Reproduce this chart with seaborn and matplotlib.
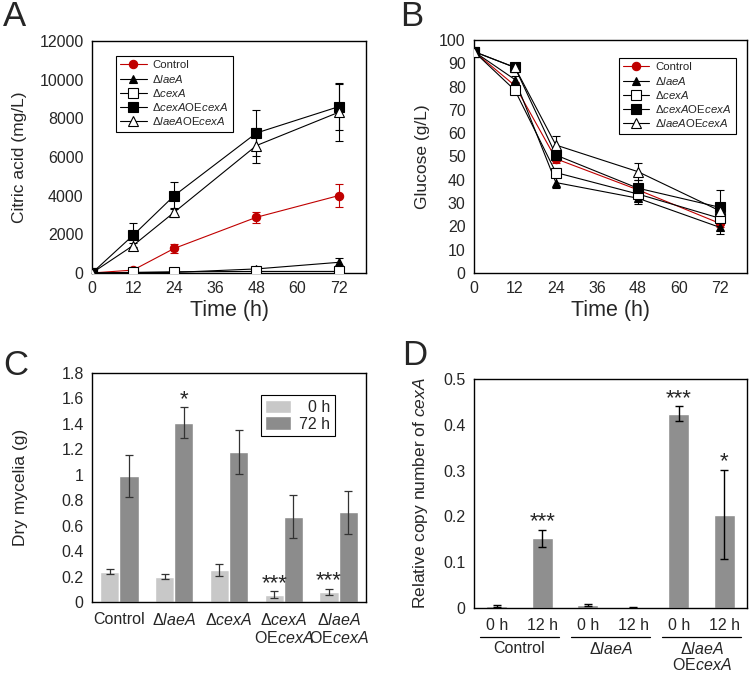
import numpy as np
import pandas as pd
import matplotlib
matplotlib.use("Agg")
import matplotlib.pyplot as plt
import seaborn as sns

# ---- data ----
times = [0, 12, 24, 48, 72]
strain_labels = ["Control", "Δ$\\it{laeA}$", "Δ$\\it{cexA}$",
                 "Δ$\\it{cexA}$OE$\\it{cexA}$", "Δ$\\it{laeA}$OE$\\it{cexA}$"]

citric_control = [0, 150, 1270, 2880, 4000]
citric_control_err = [0, 40, 220, 290, 590]
citric_laeA = [0, 20, 30, 210, 550]
citric_laeA_err = [0, 10, 10, 40, 240]
citric_cexA = [0, 30, 60, 80, 80]
citric_cexA_err = [0, 10, 10, 20, 20]
citric_cexA_oe = [0, 1950, 4000, 7240, 8600]
citric_cexA_oe_err = [0, 620, 700, 1170, 1230]
citric_laeA_oe = [0, 1420, 3140, 6590, 8310]
citric_laeA_oe_err = [0, 150, 220, 910, 1460]

glucose_control = [95, 80.4, 49.0, 35.7, 21.3]
glucose_control_err = [0.5, 1.5, 2.0, 1.5, 1.5]
glucose_laeA = [95, 83.0, 38.8, 32.1, 19.6]
glucose_laeA_err = [0.5, 1.5, 2.5, 2.5, 3.0]
glucose_cexA = [95, 78.4, 43.1, 33.9, 23.5]
glucose_cexA_err = [0.5, 1.5, 2.0, 2.0, 2.0]
glucose_cexA_oe = [95, 88.2, 50.6, 36.4, 28.2]
glucose_cexA_oe_err = [0.5, 1.5, 2.5, 3.5, 7.4]
glucose_laeA_oe = [95, 88.2, 54.9, 43.5, 26.7]
glucose_laeA_oe_err = [0.5, 2.0, 4.0, 3.6, 2.0]

mycelia_strains = ["Control", "Δ$\\it{laeA}$", "Δ$\\it{cexA}$",
                   "Δ$\\it{cexA}$\nOE$\\it{cexA}$", "Δ$\\it{laeA}$\nOE$\\it{cexA}$"]
mycelia_0h = [0.237, 0.200, 0.253, 0.058, 0.079]
mycelia_0h_err = [0.020, 0.020, 0.045, 0.025, 0.027]
mycelia_72h = [0.992, 1.410, 1.180, 0.671, 0.705]
mycelia_72h_err = [0.165, 0.120, 0.175, 0.170, 0.170]
mycelia_sig_0h = ["", "", "", "***", "***"]
mycelia_sig_72h = ["", "*", "", "", ""]

copy_samples = ["c0", "c12", "l0", "l12", "o0", "o12"]
copy_ticklabels = ["0 h", "12 h", "0 h", "12 h", "0 h", "12 h"]
copy_groups = ["Control", "Δ$\\it{laeA}$", "Δ$\\it{laeA}$\nOE$\\it{cexA}$"]
copy_values = [0.005, 0.152, 0.0066, 0.001, 0.424, 0.204]
copy_err = [0.002, 0.019, 0.003, 0.0005, 0.016, 0.098]
copy_sig = ["", "***", "", "", "***", "*"]

# ---- style ----
sns.set_style("white")
plt.rcParams["font.family"] = ["Liberation Sans", "DejaVu Sans"]
plt.rcParams["mathtext.fontset"] = "custom"
plt.rcParams["mathtext.rm"] = "Liberation Sans"
plt.rcParams["mathtext.it"] = "Liberation Sans:italic"
plt.rcParams["axes.edgecolor"] = "black"
plt.rcParams["axes.linewidth"] = 1.0

red = "#c00000"
line_specs = [
    ("o", red, red, 6),
    ("^", "black", "black", 5.5),
    ("s", "black", "white", 6.5),
    ("s", "black", "black", 6.5),
    ("^", "black", "white", 6.5),
]

fig = plt.figure(figsize=(7.5, 6.75), dpi=100)
axA = fig.add_axes([0.1227, 0.5956, 0.3653, 0.3437])
axB = fig.add_axes([0.632, 0.5956, 0.364, 0.3452])
axC = fig.add_axes([0.1227, 0.1081, 0.3653, 0.3393])
axD = fig.add_axes([0.632, 0.0993, 0.364, 0.3393])


def style_axis(ax):
    ax.tick_params(axis="both", direction="in", length=4, width=1,
                   labelsize=11.5, color="black")
    ax.tick_params(axis="y", pad=6)
    ax.tick_params(axis="x", pad=6)
    for s in ax.spines.values():
        s.set_color("black")
        s.set_linewidth(1.0)


def time_course(ax, series, errs, ylim, yticks, ylabel, legend_anchor):
    for vals, err, lab, (mk, col, mfc, ms) in zip(series, errs, strain_labels, line_specs):
        ax.errorbar(times, vals, yerr=err, fmt="none", ecolor=col if col == red else "black",
                    elinewidth=0.8, capsize=3, capthick=0.8, zorder=2)
        df = pd.DataFrame({"time": times, "value": vals})
        sns.lineplot(data=df, x="time", y="value", ax=ax, color=col, lw=0.8,
                     marker=mk, markersize=ms, markerfacecolor=mfc,
                     markeredgecolor=col, markeredgewidth=0.8, label=lab, zorder=3)
    ax.set_xlim(0, 80)
    ax.set_ylim(*ylim)
    ax.set_xticks([0, 12, 24, 36, 48, 60, 72])
    ax.set_yticks(yticks)
    style_axis(ax)
    ax.set_xlabel("Time (h)", fontsize=15.5)
    ax.set_ylabel(ylabel, fontsize=12.5)
    ax.xaxis.set_label_coords(0.5, -0.115)
    leg = ax.legend(loc="upper left", bbox_to_anchor=legend_anchor, fontsize=8.2,
                    frameon=True, fancybox=False, edgecolor="black", framealpha=1,
                    handlelength=2.3, labelspacing=0.2, borderpad=0.4,
                    handletextpad=0.5)
    leg.get_frame().set_linewidth(0.8)


time_course(axA,
            [citric_control, citric_laeA, citric_cexA, citric_cexA_oe, citric_laeA_oe],
            [citric_control_err, citric_laeA_err, citric_cexA_err, citric_cexA_oe_err, citric_laeA_oe_err],
            (0, 12000), np.arange(0, 12001, 2000), "Citric acid (mg/L)", (0.066, 0.961))
axA.yaxis.set_label_coords(-0.237, 0.5)

time_course(axB,
            [glucose_control, glucose_laeA, glucose_cexA, glucose_cexA_oe, glucose_laeA_oe],
            [glucose_control_err, glucose_laeA_err, glucose_cexA_err, glucose_cexA_oe_err, glucose_laeA_oe_err],
            (0, 100), np.arange(0, 101, 10), "Glucose (g/L)", (0.509, 0.948))
axB.yaxis.set_label_coords(-0.161, 0.5)

# ---- C: dry mycelia ----
dfC = pd.DataFrame({
    "strain": mycelia_strains * 2,
    "time": ["  0 h"] * 5 + ["72 h"] * 5,
    "value": mycelia_0h + mycelia_72h,
})
sns.barplot(data=dfC, x="strain", y="value", hue="time", ax=axC, width=0.7,
            palette=["#c8c8c8", "#8c8c8c"], saturation=1, errorbar=None)
for cont, errs, sigs in zip(axC.containers, [mycelia_0h_err, mycelia_72h_err],
                            [mycelia_sig_0h, mycelia_sig_72h]):
    xs = [p.get_x() + p.get_width() / 2 for p in cont]
    ys = [p.get_height() for p in cont]
    axC.errorbar(xs, ys, yerr=errs, fmt="none", ecolor="#333333", elinewidth=0.9,
                 capsize=3, capthick=0.9)
    for x, y, e, s in zip(xs, ys, errs, sigs):
        if s:
            axC.text(x, y + e - 0.02, s, ha="center", va="bottom", fontsize=16)
axC.set_xlim(-0.5, 4.5)
axC.set_ylim(0, 1.8)
axC.set_yticks(np.arange(0, 1.81, 0.2))
axC.set_yticklabels(["0", "0.2", "0.4", "0.6", "0.8", "1", "1.2", "1.4", "1.6", "1.8"])
style_axis(axC)
axC.tick_params(axis="x", length=0, pad=7)
axC.set_xlabel("")
axC.set_ylabel("Dry mycelia (g)", fontsize=12.5)
axC.yaxis.set_label_coords(-0.234, 0.5)
h, l = axC.get_legend_handles_labels()
legC = axC.legend(h, l, loc="upper right", bbox_to_anchor=(0.916, 0.939), fontsize=11.5,
                  frameon=True, fancybox=False, edgecolor="black", framealpha=1,
                  handlelength=1.6, handleheight=0.9, labelspacing=0.1, borderpad=0.3,
                  handletextpad=0.5)
legC.get_frame().set_linewidth(0.8)

# ---- D: relative copy number ----
dfD = pd.DataFrame({"sample": copy_samples, "value": copy_values})
sns.barplot(data=dfD, x="sample", y="value", ax=axD, width=0.47, color="#8f8f8f",
            saturation=1, errorbar=None)
xsD = [p.get_x() + p.get_width() / 2 for p in axD.patches]
axD.errorbar(xsD, copy_values, yerr=copy_err, fmt="none", ecolor="black",
             elinewidth=1.0, capsize=3, capthick=1.0)
for x, y, e, s in zip(xsD, copy_values, copy_err, copy_sig):
    if s:
        axD.text(x, y + e - 0.005, s, ha="center", va="bottom", fontsize=16)
axD.set_xlim(-0.5, 5.5)
axD.set_ylim(0, 0.5)
axD.set_yticks(np.arange(0, 0.51, 0.1))
axD.set_yticklabels(["0", "0.1", "0.2", "0.3", "0.4", "0.5"])
style_axis(axD)
axD.set_xticks(range(len(copy_ticklabels)))
axD.set_xticklabels(copy_ticklabels)
axD.tick_params(axis="x", length=0, pad=7)
axD.set_xlabel("")
axD.set_ylabel("Relative copy number of $\\it{cexA}$", fontsize=12.5)
axD.yaxis.set_label_coords(-0.161, 0.5)
trans = axD.get_xaxis_transform()
for i, grp in enumerate(copy_groups):
    c = 2 * i + 0.5
    axD.plot([c - 0.86, c + 0.86], [-0.128, -0.128], color="black", lw=0.9,
             transform=trans, clip_on=False)
    axD.text(c, -0.143, grp, transform=trans, ha="center", va="top", fontsize=11.5,
             linespacing=1.05)

# ---- panel letters ----
for x, y, s in [(0.004, 1.0, "A"), (0.533, 1.0, "B"), (0.004, 0.483, "C"), (0.536, 0.498, "D")]:
    fig.text(x, y, s, fontsize=25, ha="left", va="top")

fig.savefig("out.png", dpi=100)
